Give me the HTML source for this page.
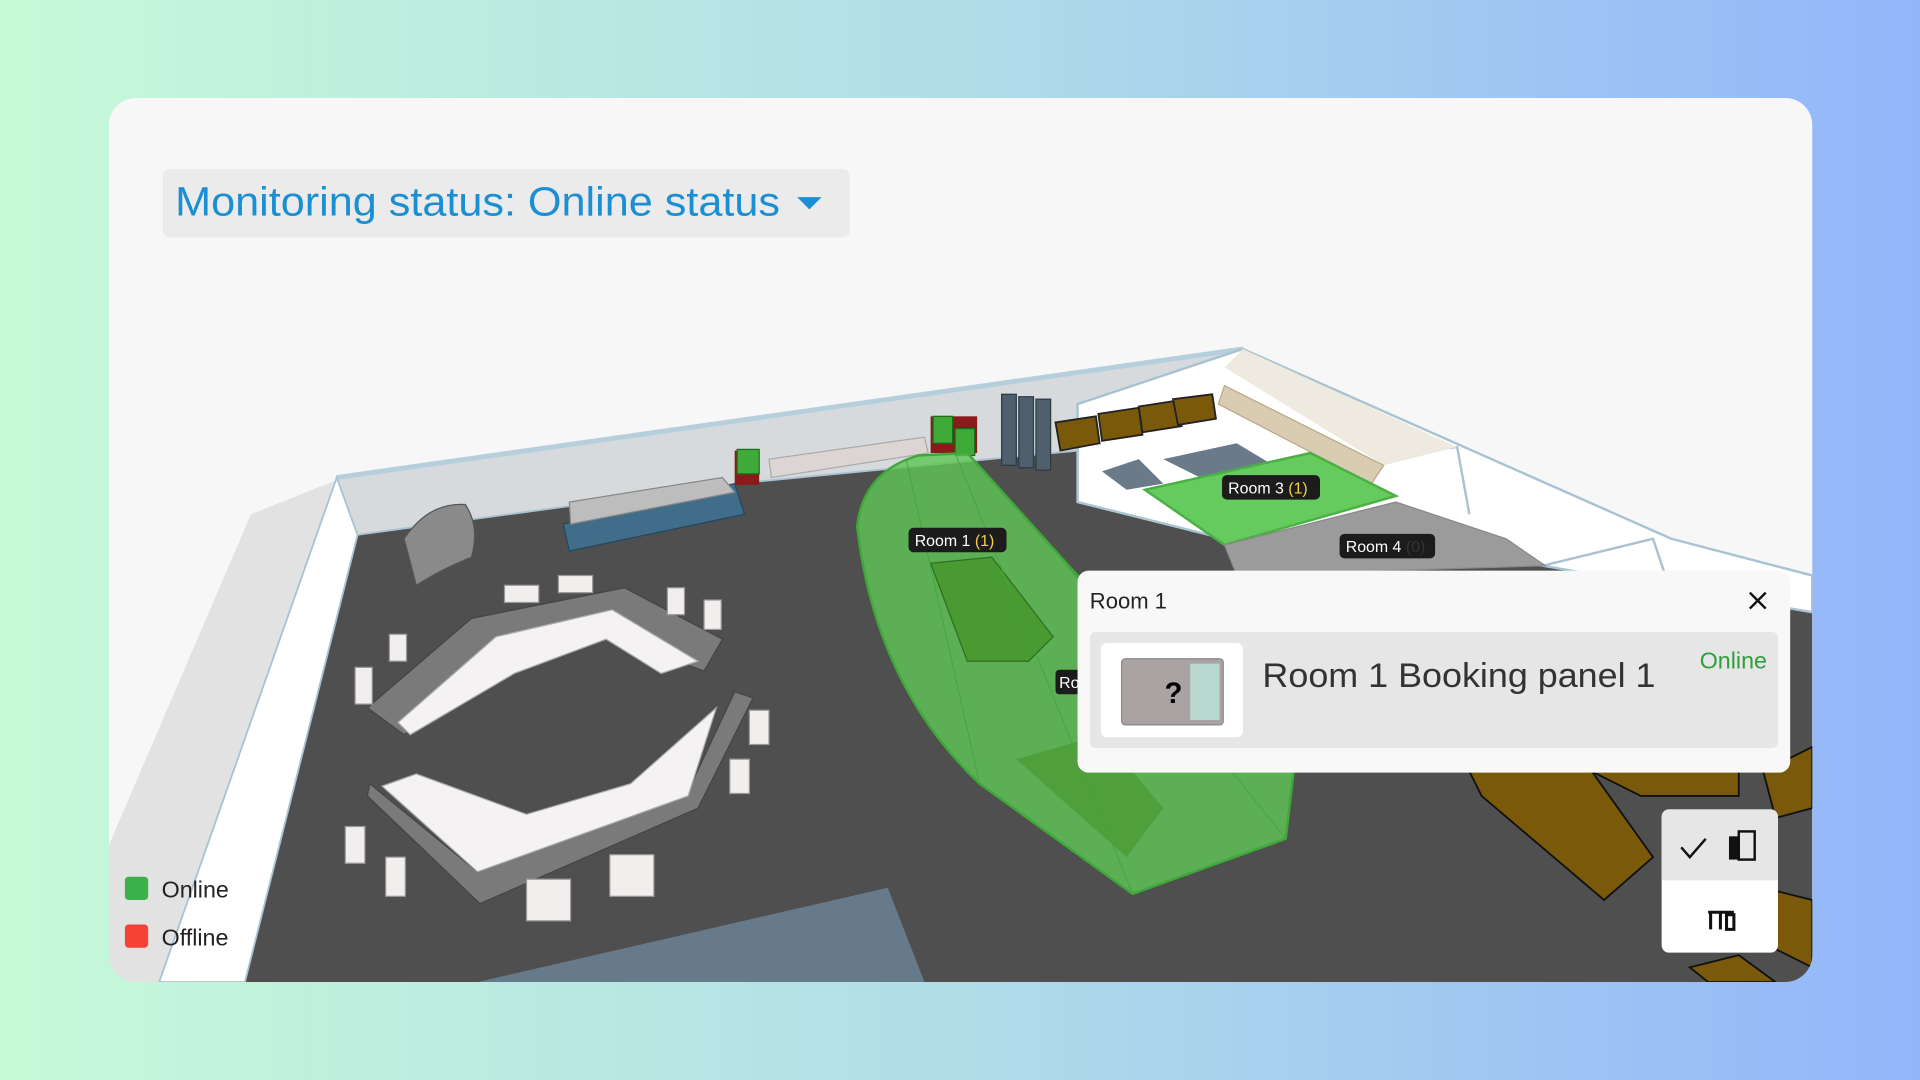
<!DOCTYPE html>
<html><head><meta charset="utf-8"><style>
html,body{margin:0;padding:0;width:1920px;height:1080px;overflow:hidden}
svg{display:block}
text{font-family:"Liberation Sans","DejaVu Sans",sans-serif}
</style></head><body>
<svg width="1920" height="1080" viewBox="0 0 1568 882" preserveAspectRatio="none" xmlns="http://www.w3.org/2000/svg">
<defs>
<linearGradient id="bg" x1="0" y1="0" x2="1" y2="0">
<stop offset="0" stop-color="#c6fad8"/><stop offset="0.5" stop-color="#b2dce8"/><stop offset="1" stop-color="#93b5fa"/>
</linearGradient>
<clipPath id="card"><rect x="89" y="80" width="1391" height="722" rx="22"/></clipPath>
</defs>
<rect width="1568" height="882" fill="url(#bg)"/>
<rect x="89" y="80" width="1391" height="722" rx="22" fill="#f7f7f7"/>
<g clip-path="url(#card)">
<polygon points="205,420 275,392 140,802 89,802 89,690" fill="#e2e2e2"/>
<polygon points="290,437 600,395 880,368 1010,420 1260,455 1480,470 1480,802 200,802" fill="#4f4f4f"/>
<polygon points="275,390 1015,285 1015,300 880,330 880,368 600,395 290,437" fill="#d6dadc" stroke="#a9c3d2" stroke-width="1.5"/>
<line x1="275" y1="390" x2="1015" y2="285" stroke="#b6cfdc" stroke-width="4"/>
<polygon points="275,390 292,437 200,802 130,802" fill="#ffffff" stroke="#a9c3d2" stroke-width="1.5"/>
<polygon points="1015,285 1365,440 1480,470 1480,500 1260,462 1000,440 880,410 880,330" fill="#ffffff" stroke="#a9c3d2" stroke-width="2"/>
<polyline points="1140,372 1190,365 1200,420" fill="none" stroke="#a9c3d2" stroke-width="2"/>
<polyline points="1260,462 1350,440 1360,470" fill="none" stroke="#a9c3d2" stroke-width="2"/>
<polygon points="1000,300 1015,285 1190,365 1130,380" fill="#eeeae0"/>
<polygon points="1000,315 1130,380 1120,395 995,330" fill="#d9ccb0" stroke="#b8a888"/>
<polygon points="900,385 930,375 950,395 920,400" fill="#6a7a88"/>
<polygon points="950,375 1010,362 1040,380 980,390" fill="#6a7a88"/>
<g fill="#7a5a0a" stroke="#222" stroke-width="1.5">
<polygon points="862,345 895,340 898,362 866,368"/><polygon points="897,338 930,333 933,355 900,360"/>
<polygon points="930,332 962,327 965,348 933,353"/><polygon points="958,326 990,322 993,342 962,347"/>
</g>
<g fill="#4f5f6e" stroke="#2d3a44">
<rect x="818" y="322" width="12" height="58"/><rect x="832" y="324" width="12" height="58"/><rect x="846" y="326" width="12" height="58"/>
</g>
<polygon points="935,400 1070,370 1140,405 1000,445" fill="#66cb5e" stroke="#4bb043" stroke-width="2"/>
<polygon points="1000,445 1140,410 1230,440 1262,462 1010,470" fill="#9b9b9b" stroke="#888"/>
<polygon points="460,428 600,395 608,420 465,450" fill="#3f6d8a" stroke="#24485e"/>
<polygon points="465,410 590,390 600,402 466,428" fill="#bdbdbd" stroke="#888"/>
<polygon points="628,375 755,357 758,370 630,390" fill="#ddd5d3" stroke="#aaa"/>
<rect x="600" y="368" width="20" height="28" fill="#8b1a1a"/><rect x="602" y="367" width="18" height="20" fill="#3eaa38" stroke="#1e6a1a"/>
<rect x="760" y="340" width="38" height="30" fill="#8b1a1a"/><rect x="762" y="340" width="16" height="22" fill="#3eaa38" stroke="#1e6a1a"/><rect x="780" y="350" width="16" height="22" fill="#3eaa38" stroke="#1e6a1a"/>
<path d="M330,440 Q350,410 380,412 Q392,430 385,455 Q360,465 340,478 Z" fill="#8a8a8a" stroke="#555"/>
<polygon points="300,578 385,505 510,480 590,522 575,548 500,520 420,545 330,600" fill="#7a7a7a" stroke="#444"/>
<polygon points="325,590 405,520 500,498 570,540 540,550 495,522 420,550 335,600" fill="#f4f2f2" stroke="#aaa"/>
<polygon points="302,640 390,712 560,650 600,565 615,570 570,660 392,738 300,650" fill="#7a7a7a" stroke="#444"/>
<polygon points="312,642 340,632 430,665 515,640 585,578 562,650 390,712" fill="#f4f2f2" stroke="#aaa"/>
<g fill="#f2eeee" stroke="#999">
<rect x="412" y="478" width="28" height="14"/><rect x="456" y="470" width="28" height="14"/>
<rect x="545" y="480" width="14" height="22"/><rect x="575" y="490" width="14" height="24"/>
<rect x="318" y="518" width="14" height="22"/><rect x="290" y="545" width="14" height="30"/>
<rect x="612" y="580" width="16" height="28"/><rect x="596" y="620" width="16" height="28"/>
<rect x="282" y="675" width="16" height="30"/><rect x="315" y="700" width="16" height="32"/>
<rect x="430" y="718" width="36" height="34"/><rect x="498" y="698" width="36" height="34"/>
</g>
<polygon points="390,802 725,725 755,802" fill="#677a89"/>
<g fill="#7a5a0a" stroke="#111" stroke-width="1.5">
<polygon points="1200,630 1300,630 1350,700 1310,735 1210,650"/>
<polygon points="1300,630 1420,630 1420,650 1340,650"/>
<polygon points="1440,630 1480,610 1480,660 1450,668"/>
<polygon points="1420,720 1480,735 1480,790 1440,770"/>
<polygon points="1380,790 1420,780 1450,802 1395,802"/>
</g>
<path d="M700,430 Q705,385 750,372 L790,370 L880,470 L1060,600 L1050,685 L925,730 L800,640 Q715,560 700,430 Z" fill="#5fc556" fill-opacity="0.82" stroke="#3ea838" stroke-width="2"/>
<polygon points="760,460 810,455 860,520 840,540 790,540" fill="#4a9a32" stroke="#2f6e22"/>
<polygon points="830,620 900,600 950,660 920,700" fill="#4a9a32" fill-opacity="0.7"/>
<g stroke="#3ea838" stroke-width="1" opacity="0.7">
<line x1="740" y1="375" x2="800" y2="640"/><line x1="780" y1="370" x2="925" y2="730"/><line x1="870" y1="460" x2="1050" y2="685"/>
</g>
<rect x="742" y="431" width="80" height="20" rx="4" fill="#1c1c1c"/>
<text x="747" y="446" font-size="13" fill="#fff">Room 1 <tspan fill="#f4d13c">(1)</tspan></text>
<rect x="998" y="388" width="80" height="20" rx="4" fill="#1c1c1c"/>
<text x="1003" y="403" font-size="13" fill="#fff">Room 3 <tspan fill="#f4d13c">(1)</tspan></text>
<rect x="1094" y="436" width="78" height="20" rx="4" fill="#1c1c1c"/>
<text x="1099" y="451" font-size="13" fill="#fff">Room 4 <tspan fill="#333">(0)</tspan></text>
<rect x="862" y="547" width="24" height="20" rx="3" fill="#1c1c1c"/>
<text x="865" y="562" font-size="13" fill="#fff">Ro</text>
</g>
<rect x="133" y="138" width="561" height="56" rx="6" fill="#ebebeb"/>
<text x="143" y="176" font-size="33" fill="#1b8fd3" textLength="494" lengthAdjust="spacingAndGlyphs">Monitoring status: Online status</text>
<polygon points="651,161 671,161 661,171" fill="#1b8fd3"/>
<rect x="880" y="466" width="582" height="165" rx="9" fill="#f8f8f8"/>
<text x="890" y="497" font-size="18" fill="#222">Room 1</text>
<path d="M1429,484 L1442,497 M1442,484 L1429,497" stroke="#111" stroke-width="2"/>
<rect x="890" y="516" width="562" height="95" rx="5" fill="#e6e6e6"/>
<rect x="899" y="525" width="116" height="77" rx="5" fill="#fff"/>
<rect x="916" y="538" width="83" height="54" rx="3" fill="#a9a3a3" stroke="#8e8888"/>
<rect x="972" y="542" width="24" height="46" fill="#b8d8d0"/>
<text x="951" y="574" font-size="24" font-weight="bold" fill="#000">?</text>
<text x="1031" y="561" font-size="28" fill="#333" textLength="321" lengthAdjust="spacingAndGlyphs">Room 1 Booking panel 1</text>
<text x="1443" y="546" font-size="19" fill="#2e9e3a" text-anchor="end">Online</text>
<rect x="1357" y="661" width="95" height="117" rx="6" fill="#fff"/>
<path d="M1357,719 V667 a6,6 0 0 1 6,-6 H1446 a6,6 0 0 1 6,6 V719 Z" fill="#e6e6e6"/>
<path d="M1373,692 L1380,700 L1393,685" stroke="#111" stroke-width="2" fill="none"/>
<rect x="1412" y="683" width="8" height="19" fill="#111"/><rect x="1420" y="679" width="13" height="23" fill="none" stroke="#111" stroke-width="2"/>
<path d="M1395,745 H1416 M1397,745 V759 M1405,745 V759 M1410,747 H1416 V759 H1410 Z" stroke="#111" stroke-width="2.5" fill="none"/>
<rect x="102" y="716" width="19" height="19" rx="3" fill="#3cb14a"/>
<text x="132" y="733" font-size="19" fill="#222">Online</text>
<rect x="102" y="755" width="19" height="19" rx="3" fill="#f44336"/>
<text x="132" y="772" font-size="19" fill="#222">Offline</text>
</svg>
</body></html>
